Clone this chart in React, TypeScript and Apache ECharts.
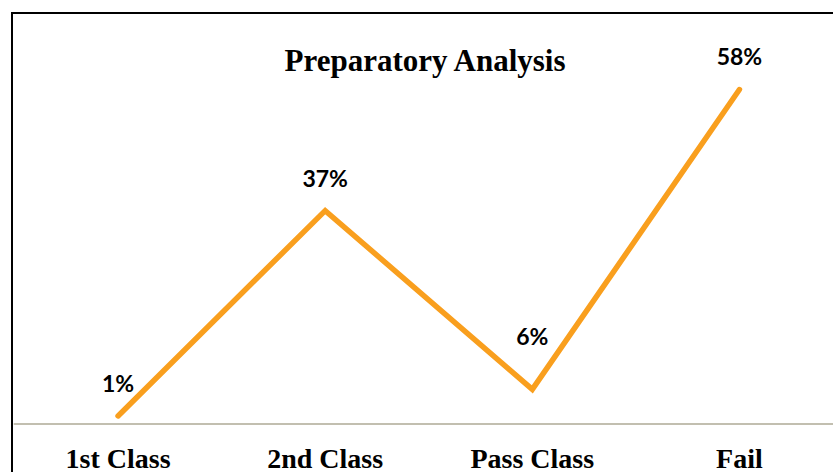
import React, { useEffect, useRef } from "react";
import * as echarts from "echarts";

const categories = ["1st Class", "2nd Class", "Pass Class", "Fail"];
const values = [1.4, 37, 6, 58];
const titleText = "Preparatory Analysis";

export default function App() {
  const ref = useRef<HTMLDivElement>(null);
  useEffect(() => {
    if (!ref.current) return;
    const chart = echarts.init(ref.current, null, { renderer: "svg" });
    const labelDistances = [21, 21, 41, 22];
    chart.setOption({
      animation: false,
      backgroundColor: "#ffffff",
      title: {
        text: titleText,
        left: 420,
        top: 40,
        textAlign: "center",
        textStyle: {
          fontFamily: "Liberation Serif",
          fontWeight: "bold",
          fontSize: 31,
          color: "#000",
        },
      },
      grid: { left: 14.5, right: 1, top: 78, bottom: 48 },
      xAxis: {
        type: "category",
        data: categories,
        boundaryGap: true,
        axisLine: { show: true, lineStyle: { color: "#c2bfb0", width: 2 } },
        axisTick: { show: false },
        axisLabel: {
          margin: 20,
          fontFamily: "Liberation Serif",
          fontWeight: "bold",
          fontSize: 28,
          color: "#000",
          interval: 0,
        },
      },
      yAxis: {
        type: "value",
        min: 0,
        max: 60,
        show: false,
        splitLine: { show: false },
      },
      graphic: [
        {
          type: "rect",
          shape: { x: 12, y: 13, width: 900, height: 600 },
          style: { fill: "none", stroke: "#000", lineWidth: 2 },
          silent: true,
          z: 100,
        },
      ],
      series: [
        {
          type: "line",
          data: values.map((v, i) => ({
            value: v,
            label: { distance: labelDistances[i] },
          })),
          symbol: "circle",
          symbolSize: 1,
          showSymbol: true,
          itemStyle: { color: "rgba(0,0,0,0)", borderWidth: 0 },
          lineStyle: { color: "#f99f1e", width: 5.5, cap: "round", join: "miter" },
          label: {
            show: true,
            position: "top",
            formatter: (p: any) => Math.round(p.value) + "%",
            fontFamily: "Lato",
            fontWeight: "bold",
            fontSize: 23,
            color: "#000",
          },
        },
      ],
    });
    return () => chart.dispose();
  }, []);
  return (
    <div
      style={{
        position: "fixed",
        left: 0,
        top: 0,
        width: 833,
        height: 472,
        overflow: "hidden",
      }}
    >
      <div ref={ref} style={{ width: 844, height: 472 }} />
    </div>
  );
}
